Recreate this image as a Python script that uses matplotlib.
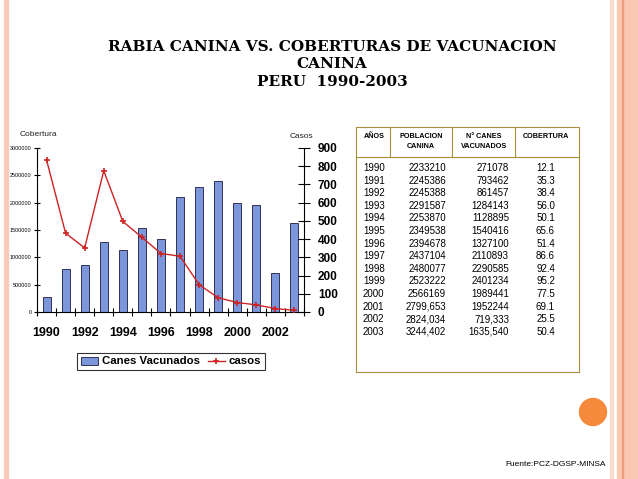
import numpy as np
import matplotlib
matplotlib.use("Agg")
import matplotlib.pyplot as plt
from matplotlib.patches import Rectangle, Circle
from matplotlib.lines import Line2D

# data
years = [1990, 1991, 1992, 1993, 1994, 1995, 1996, 1997, 1998, 1999, 2000, 2001, 2002, 2003]
poblacion = ["2233210", "2245386", "2245388", "2291587", "2253870", "2349538", "2394678",
             "2437104", "2480077", "2523222", "2566169", "2799,653", "2824,034", "3244,402"]
vacunados_txt = ["271078", "793462", "861457", "1284143", "1128895", "1540416", "1327100",
                 "2110893", "2290585", "2401234", "1989441", "1952244", "719,333", "1635,540"]
vacunados = [271078, 793462, 861457, 1284143, 1128895, 1540416, 1327100,
             2110893, 2290585, 2401234, 1989441, 1952244, 719333, 1635540]
cobertura = ["12.1", "35.3", "38.4", "56.0", "50.1", "65.6", "51.4",
             "86.6", "92.4", "95.2", "77.5", "69.1", "25.5", "50.4"]
casos = [835, 432, 352, 775, 497, 410, 321, 306, 150, 78, 52, 39, 19, 9]

W, H = 638, 479
fig = plt.figure(figsize=(W / 100, H / 100), dpi=100)
plt.rcParams['font.family'] = ['Liberation Sans', 'DejaVu Sans']


def fx(x):
    return x / W


def fy(y):
    return 1 - y / H


# slide decoration
for x0, w, c in [(4, 4, '#F9CBBB'), (610, 3, '#FCDCD0'), (617, 21, '#FAC7B3'),
                 (622, 1.2, '#EE9E7C')]:
    fig.patches.append(Rectangle((fx(x0), 0), fx(w), 1, transform=fig.transFigure,
                                 color=c, zorder=0))
# circle in pixel coords so it stays round
fig.patches.append(Circle((593, H - 412), 13.5, transform=None, color='#F58A3C', zorder=1))

# title
title_kw = dict(ha='center', va='center', fontsize=11, fontweight='bold',
                family=['DejaVu Serif'])
fig.text(fx(332), fy(47), "RABIA CANINA VS. COBERTURAS DE VACUNACION", **title_kw)
fig.text(fx(332), fy(64), "CANINA", **title_kw)
fig.text(fx(332), fy(82), "PERU  1990-2003", **title_kw)

# chart
ax = fig.add_axes([fx(37), fy(312), fx(304) - fx(37), fy(148) - fy(312)])
x = np.arange(len(years))
bars = ax.bar(x, vacunados, width=0.42, color='#7B96DB', edgecolor='#1a1a40',
              linewidth=0.6, zorder=2)
ax.set_xlim(-0.5, len(years) - 0.5)
ax.set_ylim(0, 3000000)
ax.set_yticks(np.arange(0, 3000001, 500000))
ax.set_yticklabels([str(v) for v in range(0, 3000001, 500000)], fontsize=3.9)
ax.tick_params(axis='y', direction='inout', length=5, width=0.8, pad=1.5)
ax.set_xticks(np.arange(-0.5, len(years), 1.0))
ax.set_xticklabels([])
ax.tick_params(axis='x', which='major', direction='inout', length=6, width=0.8)
ax.set_xticks(x[::2], minor=True)
ax.set_xticklabels([str(y) for y in years[::2]], minor=True, fontsize=9, fontweight='bold')
ax.tick_params(axis='x', which='minor', length=0, pad=11)
for s in ['top', 'right']:
    ax.spines[s].set_visible(False)
ax.spines['left'].set_linewidth(0.8)
ax.spines['bottom'].set_linewidth(0.8)
ax.patch.set_alpha(0)

ax2 = ax.twinx()
line, = ax2.plot(x, casos, color='#CC2424', linewidth=1.0, marker='+',
                 markersize=4.5, markeredgewidth=1.2, zorder=3)
ax2.set_ylim(0, 900)
ax2.set_yticks(np.arange(0, 901, 100))
ax2.set_yticklabels([str(v) for v in range(0, 901, 100)], fontsize=8.5, fontweight='bold')
ax2.tick_params(axis='y', direction='inout', length=8, width=0.8, pad=6)
for s in ['top', 'left', 'bottom']:
    ax2.spines[s].set_visible(False)
ax2.spines['right'].set_linewidth(0.8)

fig.text(fx(20), fy(135), "Cobertura", fontsize=6, ha='left', va='center', color='#222222')
fig.text(fx(313), fy(137), "Casos", fontsize=6, ha='right', va='center', color='#222222')

leg = fig.legend([bars, line], ["Canes Vacunados", "casos"], loc='center',
                 bbox_to_anchor=(fx(171), fy(361.5)), ncol=2, frameon=True,
                 fancybox=False, edgecolor='black', handlelength=1.5,
                 handletextpad=0.35, columnspacing=0.7, borderpad=0.35,
                 prop={'size': 8.2, 'weight': 'bold'})
leg.get_frame().set_linewidth(0.8)

# table
border = '#A89040'
tbl = dict(transform=fig.transFigure, color=border, linewidth=0.8)
fig.lines.append(Line2D([fx(356), fx(579), fx(579), fx(356), fx(356)],
                        [fy(127), fy(127), fy(372), fy(372), fy(127)], **tbl))
fig.lines.append(Line2D([fx(356), fx(579)], [fy(157), fy(157)], **tbl))
for xv in [390, 452, 515]:
    fig.lines.append(Line2D([fx(xv), fx(xv)], [fy(127), fy(157)], **tbl))

hk = dict(fontsize=5.2, fontweight='bold', ha='center', va='center')
fig.text(fx(374), fy(137), "AÑOS", **hk)
fig.text(fx(421), fy(137), "POBLACION", **hk)
fig.text(fx(421), fy(147), "CANINA", **hk)
fig.text(fx(484), fy(137), "N° CANES", **hk)
fig.text(fx(484), fy(147), "VACUNADOS", **hk)
fig.text(fx(546), fy(137), "COBERTURA", **hk)

rk = dict(fontsize=7, va='center')
for i in range(len(years)):
    yy = fy(168 + i * 12.6)
    fig.text(fx(363), yy, str(years[i]), ha='left', **rk)
    fig.text(fx(446), yy, poblacion[i], ha='right', **rk)
    fig.text(fx(509), yy, vacunados_txt[i], ha='right', **rk)
    fig.text(fx(555), yy, cobertura[i], ha='right', **rk)

fig.text(fx(606), fy(465), "Fuente:PCZ-DGSP-MINSA", fontsize=6, ha='right', va='center')

fig.savefig("out.png", dpi=100)
